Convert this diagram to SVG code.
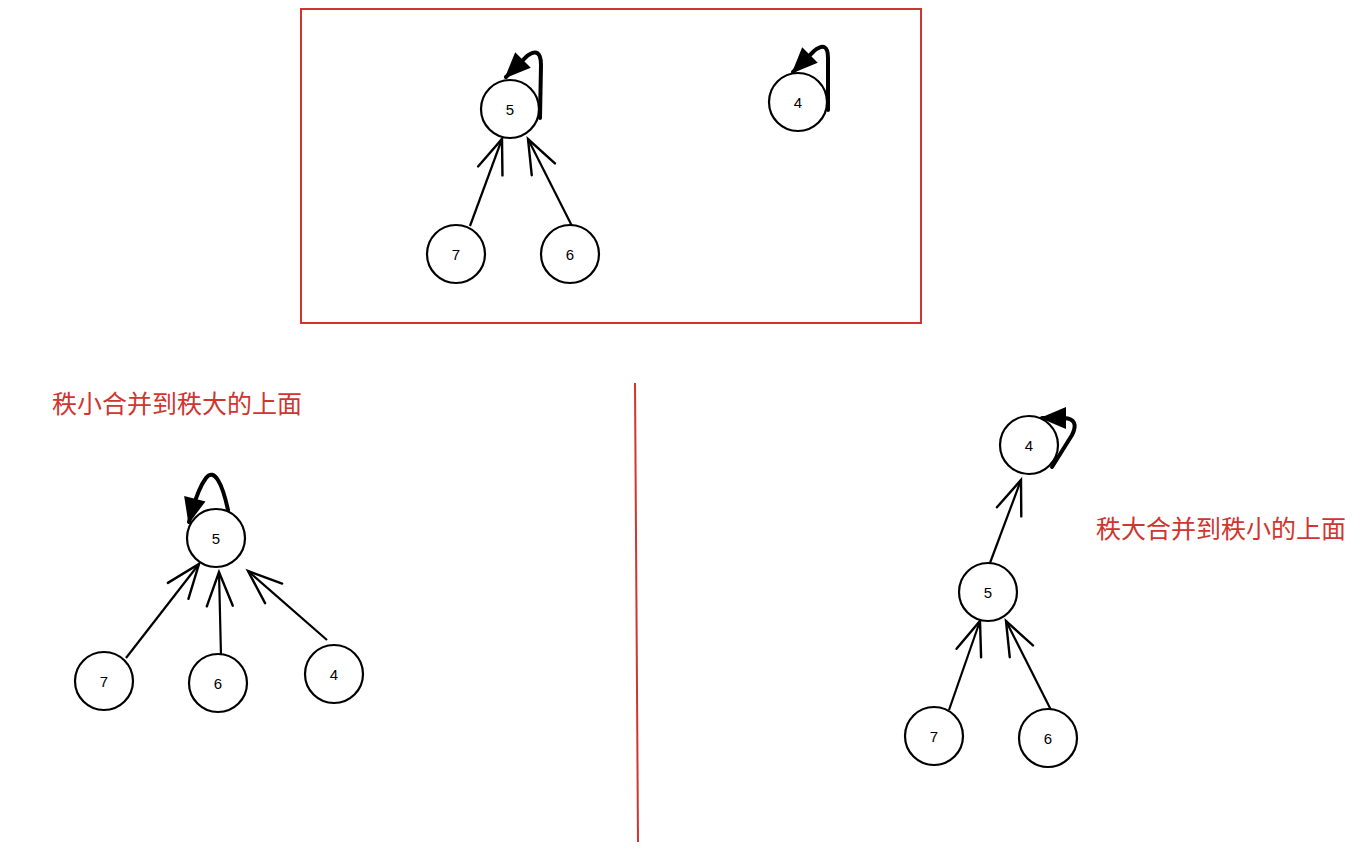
<svg xmlns="http://www.w3.org/2000/svg" width="1365" height="854" viewBox="0 0 1365 854">
<defs>
<style>
.node{fill:#fff;stroke:#000;stroke-width:2.2}
.lbl{font-family:"Liberation Sans","DejaVu Sans",sans-serif;font-size:15px;fill:#000;text-anchor:middle;dominant-baseline:central}
.edge{fill:none;stroke:#000;stroke-width:2.2;marker-end:url(#open)}
.loop{fill:none;stroke:#000;stroke-width:4;stroke-linecap:round;marker-end:url(#fill)}
.red{font-family:"Noto Sans CJK SC","Noto Sans",sans-serif;font-size:25px;fill:#d0352f}
</style>
<marker id="open" markerUnits="userSpaceOnUse" viewBox="-40 -20 44 40" markerWidth="44" markerHeight="40" refX="0" refY="0" orient="auto">
<path d="M-34,-13 L0,0 L-34,13" fill="none" stroke="#000" stroke-width="2.4" stroke-linecap="round"/>
</marker>
<marker id="fill" markerUnits="userSpaceOnUse" viewBox="-30 -16 36 32" markerWidth="36" markerHeight="32" refX="0" refY="0" orient="auto">
<path d="M-24,-11 L2,0 L-24,11 Z" fill="#000"/>
</marker>
</defs>
<rect x="301" y="9" width="620" height="314" fill="none" stroke="#d0352f" stroke-width="2"/>
<line x1="635" y1="383" x2="638" y2="842" stroke="#d0352f" stroke-width="2"/>
<text class="red" x="52" y="413">秩小合并到秩大的上面</text>
<text class="red" x="1096" y="538">秩大合并到秩小的上面</text>
<g id="connectors">
<path class="edge" d="M470,226 L502,139"/>
<path class="edge" d="M573,228 L528,139"/>
<path class="loop" d="M540,118 L541,65 Q541,46 527,56 L506,77"/>
<path class="loop" d="M828,110 L828,58 Q828,40 814,51 L793,72"/>
<path class="edge" d="M126,658 L199,564"/>
<path class="edge" d="M221,656 L219,572"/>
<path class="edge" d="M327,640 L248,571"/>
<path class="loop" d="M228,510 C222,482 214,468 206,478 Q197,490 189,522"/>
<path class="edge" d="M990,563 L1021,480"/>
<path class="edge" d="M949,710 L980,621"/>
<path class="edge" d="M1051,710 L1006,621"/>
<path class="loop" d="M1052,467 L1072,435 Q1080,419 1064,418 L1042,418"/>
</g>
<g id="t5"><circle class="node" cx="510" cy="109" r="29"/><text class="lbl" x="510" y="109">5</text></g>
<g id="t7"><circle class="node" cx="456" cy="254" r="29"/><text class="lbl" x="456" y="254">7</text></g>
<g id="t6"><circle class="node" cx="570" cy="254" r="29"/><text class="lbl" x="570" y="254">6</text></g>
<g id="t4"><circle class="node" cx="798" cy="102" r="29"/><text class="lbl" x="798" y="102">4</text></g>
<g id="l5"><circle class="node" cx="216" cy="538" r="29"/><text class="lbl" x="216" y="538">5</text></g>
<g id="l7"><circle class="node" cx="104" cy="681" r="29"/><text class="lbl" x="104" y="681">7</text></g>
<g id="l6"><circle class="node" cx="218" cy="683" r="29"/><text class="lbl" x="218" y="683">6</text></g>
<g id="l4"><circle class="node" cx="334" cy="674" r="29"/><text class="lbl" x="334" y="674">4</text></g>
<g id="r4"><circle class="node" cx="1029" cy="445" r="29"/><text class="lbl" x="1029" y="445">4</text></g>
<g id="r5"><circle class="node" cx="988" cy="592" r="29"/><text class="lbl" x="988" y="592">5</text></g>
<g id="r7"><circle class="node" cx="934" cy="736" r="29"/><text class="lbl" x="934" y="736">7</text></g>
<g id="r6"><circle class="node" cx="1048" cy="738" r="29"/><text class="lbl" x="1048" y="738">6</text></g>
</svg>
